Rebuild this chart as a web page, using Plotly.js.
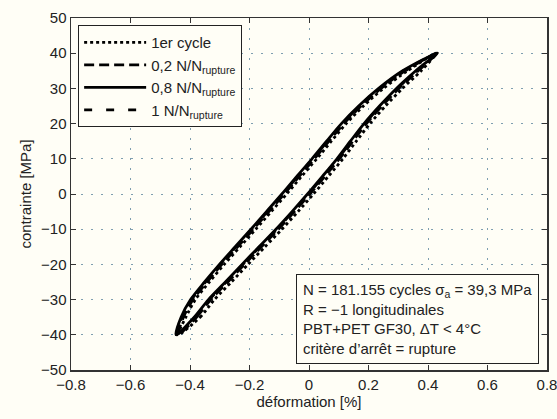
<!DOCTYPE html>
<html><head><meta charset="utf-8">
<script src="https://cdn.plot.ly/plotly-3.0.1.min.js"></script>
<style>html,body{margin:0;padding:0;background:#fffef6;}#g{width:557px;height:419px;}</style>
</head><body><div id="g"></div>
<script>
// Stress levels going round each loop: up the right (loading) branch, then down the left (unloading) branch
const stress = [-40,-35,-30,-25,-20,-15,-10,-5,0,5,10,15,20,25,30,35,40,
                 35,30,25,20,15,10,5,0,-5,-10,-15,-20,-25,-30,-35,-40];

const strainCycle1 = [-0.440,-0.366,-0.318,-0.261,-0.205,-0.148,-0.091,-0.037,0.015,0.065,0.114,0.159,0.205,0.257,0.314,0.377,0.428,
                       0.331,0.250,0.183,0.125,0.075,0.026,-0.025,-0.075,-0.127,-0.179,-0.232,-0.285,-0.335,-0.382,-0.414,-0.440];
const strainN02    = [-0.440,-0.378,-0.330,-0.273,-0.217,-0.160,-0.103,-0.049,0.003,0.053,0.102,0.147,0.193,0.245,0.302,0.367,0.430,
                       0.323,0.242,0.175,0.117,0.067,0.018,-0.033,-0.083,-0.135,-0.187,-0.240,-0.293,-0.343,-0.390,-0.422,-0.440];
const strainN08    = [-0.447,-0.386,-0.338,-0.281,-0.225,-0.168,-0.111,-0.057,-0.005,0.045,0.094,0.139,0.185,0.237,0.294,0.359,0.430,
                       0.315,0.234,0.167,0.109,0.059,0.010,-0.041,-0.091,-0.143,-0.195,-0.248,-0.301,-0.351,-0.398,-0.430,-0.447];
const strainN10    = [-0.445,-0.383,-0.335,-0.278,-0.222,-0.165,-0.108,-0.054,-0.002,0.048,0.097,0.142,0.188,0.240,0.297,0.362,0.432,
                       0.318,0.237,0.170,0.112,0.062,0.013,-0.038,-0.088,-0.140,-0.192,-0.245,-0.298,-0.348,-0.395,-0.427,-0.445];

const seriesNames = ['1er cycle','0,2 N/N<sub>rupture</sub>','0,8 N/N<sub>rupture</sub>','1 N/N<sub>rupture</sub>'];
const xTicks = [-0.8,-0.6,-0.4,-0.2,0,0.2,0.4,0.6,0.8];
const xTickText = ['−0.8','−0.6','−0.4','−0.2','0','0.2','0.4','0.6','0.8'];
const yTicks = [-50,-40,-30,-20,-10,0,10,20,30,40,50];
const infoLines = ['N = 181.155 cycles σ<sub>a</sub> = 39,3 MPa','R = −1 longitudinales','PBT+PET GF30, ΔT &lt; 4°C','critère d’arrêt = rupture'];

const strains = [strainCycle1, strainN02, strainN08, strainN10];
const dashes = ['3px,3px','10px,5px','solid','8px,14px'];

const traces = strains.map((s,i)=>({
  x: s, y: stress, type:'scatter', mode:'lines', name: seriesNames[i],
  line:{color:'#000', width:2.8, dash:dashes[i], shape:'spline', smoothing:0.8}
}));

const font = {family:'"Liberation Sans", Arial, sans-serif', size:15, color:'#222'};
const axisCommon = {
  showline:true, linecolor:'#333', linewidth:1.5, mirror:'allticks',
  ticks:'inside', ticklen:5, tickcolor:'#333', tickwidth:1,
  showgrid:true, gridcolor:'#7f9fb0', gridwidth:1, griddash:'2px,8px',
  zeroline:false, tickfont:font
};

const layout = {
  width:557, height:419,
  margin:{l:71, r:10, t:18, b:49},
  paper_bgcolor:'#fffef6', plot_bgcolor:'#fffef6',
  font: font,
  xaxis: Object.assign({}, axisCommon, {range:[-0.8,0.8], tickvals:xTicks, ticktext:xTickText,
    ticklabeloverflow:'allow',
    title:{text:'déformation [%]', font:font, standoff:4}}),
  yaxis: Object.assign({}, axisCommon, {range:[-50,50], tickvals:yTicks,
    title:{text:'contrainte [MPa]', font:font, standoff:6}}),
  showlegend:true,
  legend:{x:0.015, y:0.98, xanchor:'left', yanchor:'top', bgcolor:'#fffef6', bordercolor:'#222', borderwidth:1,
    font:font, itemwidth:62, tracegroupgap:0},
  annotations:[{
    xref:'paper', yref:'paper', x:0.983, y:0.017, xanchor:'right', yanchor:'bottom',
    text: infoLines.join('<br>'), align:'left', showarrow:false,
    font:font, bgcolor:'#fffef6', bordercolor:'#222', borderwidth:1, borderpad:6
  }]
};

Plotly.newPlot('g', traces, layout, {displayModeBar:false, staticPlot:true});
</script>
</body></html>
